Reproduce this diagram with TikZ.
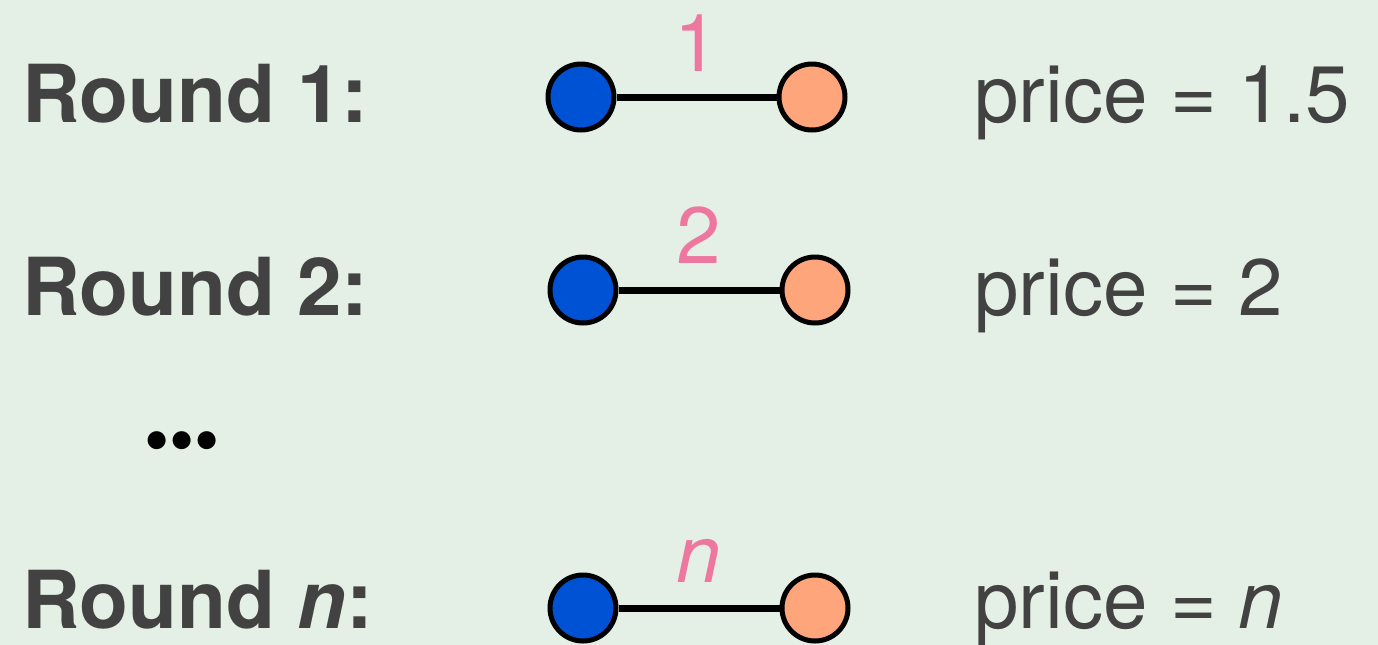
\documentclass[tikz,border=0pt]{standalone}
\usepackage{fontspec}
\setmainfont{TeX Gyre Heros}
\usepackage{tikz}

\definecolor{bgcol}{HTML}{E4EFE5}
\definecolor{txtcol}{HTML}{424242}
\definecolor{buyer}{HTML}{0052D4}
\definecolor{seller}{HTML}{FFA57B}
\definecolor{wcol}{HTML}{EE77A0}

\tikzset{
	vert/.style={circle, draw=black, line width=2.5pt, minimum size=33pt, inner sep=0pt},
	lbl/.style={anchor=base west, inner sep=0pt, text=txtcol, font=\fontsize{40}{46}\selectfont},
	wt/.style={anchor=base, inner sep=0pt, text=wcol, font=\fontsize{40}{46}\selectfont},
	edge/.style={line width=3.5pt}
}

\begin{document}
\begin{tikzpicture}[x=0.5pt, y=-0.5pt]
	\useasboundingbox (0,0) rectangle (1378,644);
	\fill[bgcol] (-10,-10) rectangle (1388,660);

	\node(R1) [lbl] at (22,122) {\bfseries Round 1:};
	\node(R2) [lbl] at (22,315) {\bfseries Round 2:};
	\node(Rd) [anchor=center, inner sep=0pt, font=\fontsize{36}{42}\selectfont] at (182,449) {\textbullet\textbullet\textbullet};
	\node(Rn) [lbl] at (22,628) {\bfseries Round \itshape n\upshape:};

	\node(B1) [vert, fill=buyer] at (581,97) {};
	\node(S1) [vert, fill=seller] at (812,97) {};
	\node(B2) [vert, fill=buyer] at (583,290) {};
	\node(S2) [vert, fill=seller] at (815,290) {};
	\node(Bn) [vert, fill=buyer] at (583,608) {};
	\node(Sn) [vert, fill=seller] at (815,608) {};

	\node(W1) [wt] at (697,71) {1};
	\node(W2) [wt] at (699,263) {2};
	\node(Wn) [wt] at (699,582) {\itshape n};

	\node(P1) [lbl] at (974,122) {price = 1.5};
	\node(P2) [lbl] at (974,315) {price = 2};
	\node(Pn) [lbl] at (974,628) {price = \itshape n};

	\draw[edge] (B1) -- (S1);
	\draw[edge] (B2) -- (S2);
	\draw[edge] (Bn) -- (Sn);

\end{tikzpicture}
\end{document}
